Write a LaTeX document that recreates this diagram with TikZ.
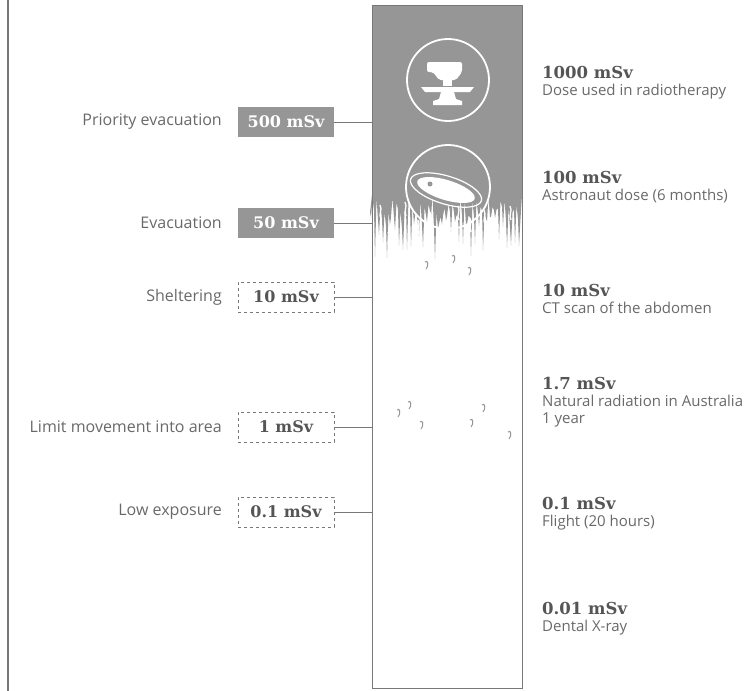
\documentclass[tikz,border=0pt]{standalone}
\usepackage{fontspec}
\setmainfont{Open Sans}
\newfontfamily\numfont{DejaVu Serif}
\definecolor{colgray}{RGB}{150,150,150}
\definecolor{txtgray}{RGB}{105,105,105}
\definecolor{numgray}{RGB}{85,85,85}
\definecolor{linegray}{RGB}{120,120,120}
\tikzset{
  leftlab/.style={anchor=east, text=txtgray, font=\fontsize{16}{18}\selectfont, inner sep=0pt},
  dosebox/.style={minimum width=96pt, minimum height=30pt, inner sep=0pt, font=\numfont\bfseries\fontsize{16}{18}\selectfont},
  filledbox/.style={dosebox, fill=colgray, text=white},
  dashbox/.style={dosebox, draw=linegray, dashed, line width=1pt, text=numgray},
  conn/.style={draw=linegray, line width=0.8pt},
  numlab/.style={anchor=west, text=numgray, font=\numfont\bfseries\fontsize{16.5}{18}\selectfont, inner sep=0pt},
  sublab/.style={anchor=north west, text=txtgray, font=\fontsize{15}{16.5}\selectfont, inner sep=0pt, align=left},
  iconring/.style={draw=white, line width=1.8pt}
}
\begin{document}
\begin{tikzpicture}[x=1pt,y=-1pt]
\useasboundingbox (0,0) rectangle (756,691);
% left frame line
\draw[linegray, line width=1.2pt] (8,0) -- (8,691);
% column
\pgfmathsetseed{11}
\fill[colgray] (372,5) -- (522,5) -- (522,195)
  \foreach \i in {0,...,37} { -- ({522-\i*4-1.5},{195+rnd*25}) -- ({522-\i*4-3},{215+rnd*45}) -- ({522-\i*4-4},{205+rnd*25}) }
  -- (372,195) -- cycle;
% white strands in the ragged zone
\foreach \sx/\sy in {380/205,392/215,405/202,418/220,430/212,446/225,458/206,470/218,484/210,497/222,510/206,388/232,440/238,476/236,505/235}{
  \draw[white, line width=1.3pt] (\sx,\sy) .. controls (\sx+3,\sy+5) and (\sx-2,\sy+9) .. (\sx+1,\sy+14);
}
% stray specks
\foreach \sx/\sy in {397/410,408/402,420/422,470/420,482/405,508/432,425/262,468/268,452/256}{
  \draw[colgray, line width=1pt] (\sx,\sy) .. controls (\sx+3,\sy-3) and (\sx+4,\sy+4) .. (\sx+1,\sy+7);
}
\node[draw=linegray, line width=1pt, minimum width=150pt, minimum height=683pt, inner sep=0pt] (col) at (447,346.5) {};
% icon 1
\node[iconring, circle, minimum size=82pt, inner sep=0pt] (ic1) at (448,80) {};
\fill[white, rounded corners=2pt] (427,62) -- (462,62) -- (462,72) -- (456,80) -- (439,80) -- (433,72) -- (427,72) -- cycle;
\fill[white] (443,80) rectangle (452,86);
\fill[white] (421,87) -- (474,87) -- (470,92) -- (425,92) -- cycle;
\fill[white] (441,92) -- (454,92) -- (456,99) -- (462,101) -- (462,105) -- (433,105) -- (433,101) -- (439,99) -- cycle;
% icon 2
\node[iconring, circle, minimum size=84pt, inner sep=0pt] (ic2) at (448,187) {};
\fill[white, rotate around={-17:(446,190)}] (446,190) ellipse (30pt and 10pt);
\draw[white, line width=1.2pt, rotate around={-17:(446,190)}] (446,190) ellipse (37pt and 14pt);
\fill[colgray] (430,184) circle (2.5pt);
% left labels and boxes
\node[filledbox] (b500) at (286,122) {500 mSv};
\node[filledbox] (b50) at (286,223) {50 mSv};
\node[dashbox] (b10) at (286,297) {10 mSv};
\node[dashbox] (b1) at (286,427) {1 mSv};
\node[dashbox] (b01) at (286,512) {0.1 mSv};
\node[leftlab] (l500) at (222,122) {Priority evacuation};
\node[leftlab] (l50) at (222,223) {Evacuation};
\node[leftlab] (l10) at (222,297) {Sheltering};
\node[leftlab] (l1) at (222,427) {Limit movement into area};
\node[leftlab] (l01) at (222,512) {Low exposure};
\foreach \b in {b500,b50,b10,b1,b01}{
  \draw[conn] (\b.east) -- (\b.east -| col.west);
}
% right labels
\node[numlab] (n1) at (542,72) {1000 mSv};
\node[sublab] (s1) at (542,84) {Dose used in radiotherapy};
\node[numlab] (n2) at (542,177) {100 mSv};
\node[sublab] (s2) at (542,189) {Astronaut dose (6 months)};
\node[numlab] (n3) at (542,290) {10 mSv};
\node[sublab] (s3) at (542,302) {CT scan of the abdomen};
\node[numlab] (n4) at (542,383) {1.7 mSv};
\node[sublab] (s4) at (542,395) {Natural radiation in Australia\\1 year};
\node[numlab] (n5) at (542,503) {0.1 mSv};
\node[sublab] (s5) at (542,515) {Flight (20 hours)};
\node[numlab] (n6) at (542,608) {0.01 mSv};
\node[sublab] (s6) at (542,620) {Dental X-ray};
\end{tikzpicture}
\end{document}
